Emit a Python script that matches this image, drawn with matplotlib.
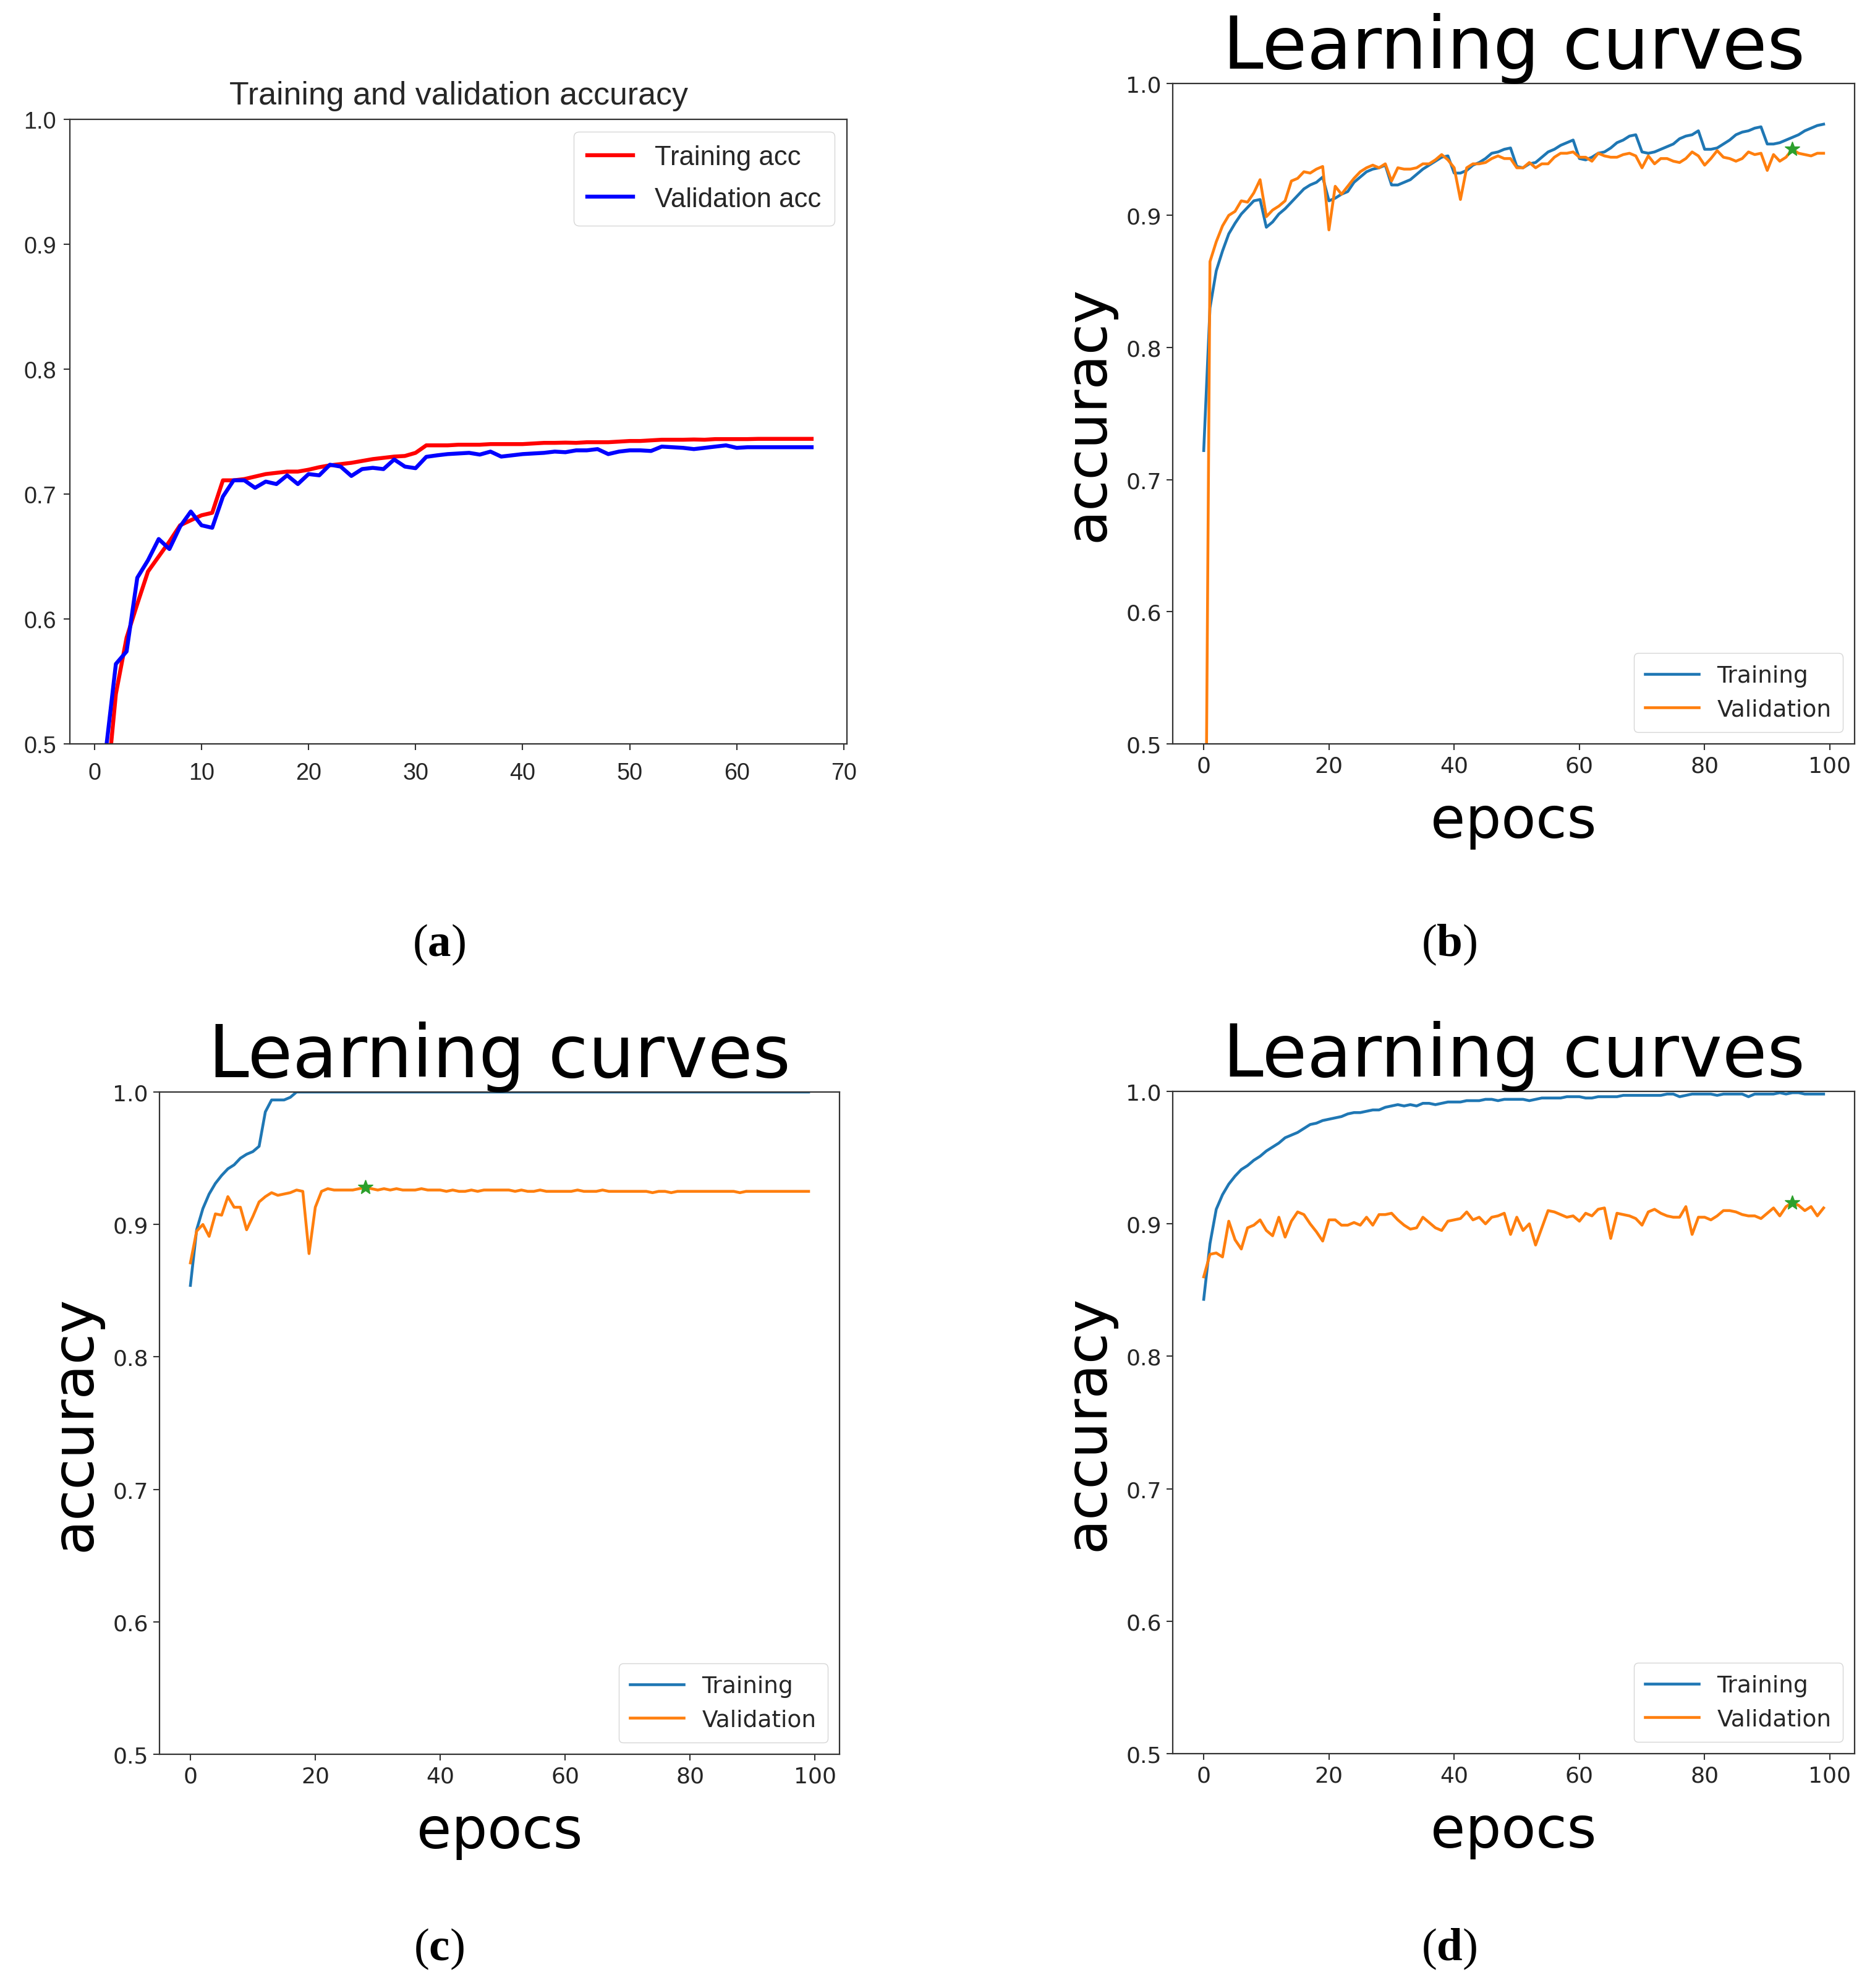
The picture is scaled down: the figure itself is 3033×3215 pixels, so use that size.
import numpy as np
import matplotlib
matplotlib.use("Agg")
import matplotlib.pyplot as plt
from matplotlib import font_manager as fm
from matplotlib.ticker import FormatStrFormatter

# ---------------- data ----------------
# (a) Training and validation accuracy, epochs 1..67
a_epochs = list(range(1, 68))
a_train = [0.45, 0.54, 0.585, 0.612, 0.638, 0.650, 0.662, 0.675, 0.679, 0.683,
           0.685, 0.711, 0.711, 0.712, 0.714, 0.716, 0.717, 0.718, 0.718, 0.7195,
           0.7215, 0.723, 0.724, 0.725, 0.7265, 0.728, 0.729, 0.730, 0.7305, 0.733,
           0.739, 0.739, 0.739, 0.7395, 0.7395, 0.7395, 0.740, 0.740, 0.740, 0.740,
           0.7405, 0.741, 0.741, 0.7412, 0.741, 0.7415, 0.7415, 0.7415, 0.742, 0.7425,
           0.7425, 0.743, 0.7435, 0.7435, 0.7435, 0.7437, 0.7435, 0.744, 0.744, 0.744,
           0.744, 0.7442, 0.7442, 0.7442, 0.7442, 0.7442, 0.7442]
a_val = [0.49, 0.564, 0.574, 0.633, 0.647, 0.664, 0.656, 0.674, 0.686, 0.675,
         0.673, 0.698, 0.711, 0.711, 0.705, 0.710, 0.708, 0.715, 0.708, 0.716,
         0.715, 0.7235, 0.722, 0.7145, 0.720, 0.721, 0.720, 0.7277, 0.722, 0.7207,
         0.7298, 0.731, 0.732, 0.7325, 0.733, 0.7316, 0.734, 0.730, 0.731, 0.732,
         0.7325, 0.733, 0.734, 0.7335, 0.735, 0.735, 0.736, 0.732, 0.734, 0.735,
         0.735, 0.7345, 0.738, 0.7375, 0.737, 0.736, 0.737, 0.738, 0.739, 0.737,
         0.7375, 0.7375, 0.7375, 0.7375, 0.7375, 0.7375, 0.7375]

# (b) Learning curves, epochs 0..99
b_train = [0.722, 0.830, 0.858, 0.873, 0.886, 0.894, 0.901, 0.906, 0.911, 0.912,
           0.891, 0.895, 0.901, 0.905, 0.910, 0.915, 0.920, 0.923, 0.925, 0.929,
           0.911, 0.913, 0.916, 0.918, 0.925, 0.929, 0.933, 0.935, 0.936, 0.938,
           0.923, 0.923, 0.925, 0.927, 0.931, 0.935, 0.938, 0.941, 0.944, 0.945,
           0.932, 0.932, 0.934, 0.938, 0.940, 0.943, 0.947, 0.948, 0.950, 0.951,
           0.937, 0.936, 0.939, 0.940, 0.944, 0.948, 0.950, 0.953, 0.955, 0.957,
           0.943, 0.942, 0.944, 0.947, 0.948, 0.951, 0.955, 0.957, 0.960, 0.961,
           0.948, 0.947, 0.948, 0.950, 0.952, 0.954, 0.958, 0.960, 0.961, 0.964,
           0.950, 0.950, 0.951, 0.954, 0.957, 0.961, 0.963, 0.964, 0.966, 0.967,
           0.954, 0.954, 0.955, 0.957, 0.959, 0.961, 0.964, 0.966, 0.968, 0.969]
b_val = [0.20, 0.865, 0.880, 0.892, 0.900, 0.903, 0.911, 0.910, 0.917, 0.927,
         0.899, 0.904, 0.907, 0.911, 0.926, 0.928, 0.933, 0.932, 0.935, 0.937,
         0.889, 0.922, 0.916, 0.922, 0.928, 0.933, 0.936, 0.938, 0.936, 0.939,
         0.926, 0.936, 0.935, 0.935, 0.936, 0.939, 0.939, 0.942, 0.946, 0.942,
         0.936, 0.912, 0.936, 0.939, 0.939, 0.940, 0.943, 0.945, 0.943, 0.943,
         0.936, 0.936, 0.940, 0.936, 0.939, 0.939, 0.944, 0.947, 0.947, 0.948,
         0.944, 0.944, 0.941, 0.947, 0.945, 0.944, 0.944, 0.946, 0.947, 0.945,
         0.936, 0.945, 0.939, 0.943, 0.943, 0.941, 0.940, 0.943, 0.948, 0.945,
         0.938, 0.943, 0.949, 0.944, 0.943, 0.941, 0.943, 0.948, 0.946, 0.947,
         0.934, 0.946, 0.941, 0.944, 0.950, 0.947, 0.946, 0.945, 0.947, 0.947]

# (c) Learning curves, epochs 0..99
c_train = ([0.854, 0.896, 0.912, 0.923, 0.931, 0.937, 0.942, 0.945, 0.950, 0.953,
            0.955, 0.959, 0.985, 0.994, 0.994, 0.994, 0.996, 1.0]
           + [1.0] * 82)
c_val = [0.871, 0.895, 0.900, 0.891, 0.908, 0.907, 0.921, 0.913, 0.913, 0.896,
         0.906, 0.917, 0.921, 0.924, 0.922, 0.923, 0.924, 0.926, 0.925, 0.878,
         0.913, 0.925, 0.927, 0.926, 0.926, 0.926, 0.926, 0.927, 0.928,
         0.927, 0.926, 0.927, 0.926, 0.927, 0.926, 0.926, 0.926, 0.927, 0.926, 0.926, 0.926,
         0.925, 0.926, 0.925, 0.925, 0.926, 0.925, 0.926, 0.926, 0.926, 0.926,
         0.926, 0.925, 0.926, 0.925, 0.925, 0.926, 0.925, 0.925, 0.925, 0.925,
         0.925, 0.926, 0.925, 0.925, 0.925, 0.926, 0.925, 0.925, 0.925, 0.925,
         0.925, 0.925, 0.925, 0.924, 0.925, 0.925, 0.924, 0.925, 0.925, 0.925,
         0.925, 0.925, 0.925, 0.925, 0.925, 0.925, 0.925, 0.924, 0.925, 0.925,
         0.925, 0.925, 0.925, 0.925, 0.925, 0.925, 0.925, 0.925, 0.925]

# (d) Learning curves, epochs 0..99
d_train = [0.843, 0.885, 0.911, 0.922, 0.930, 0.936, 0.941, 0.944, 0.948, 0.951,
           0.955, 0.958, 0.961, 0.965, 0.967, 0.969, 0.972, 0.975, 0.976, 0.978,
           0.979, 0.980, 0.981, 0.983, 0.984, 0.984, 0.985, 0.986, 0.986, 0.988,
           0.989, 0.990, 0.989, 0.990, 0.989, 0.991, 0.991, 0.990, 0.991, 0.992,
           0.992, 0.992, 0.993, 0.993, 0.993, 0.994, 0.994, 0.993, 0.994, 0.994,
           0.994, 0.994, 0.993, 0.994, 0.995, 0.995, 0.995, 0.995, 0.996, 0.996,
           0.996, 0.995, 0.995, 0.996, 0.996, 0.996, 0.996, 0.997, 0.997, 0.997,
           0.997, 0.997, 0.997, 0.997, 0.998, 0.998, 0.996, 0.997, 0.998, 0.998,
           0.998, 0.998, 0.997, 0.998, 0.998, 0.998, 0.998, 0.996, 0.998, 0.998,
           0.998, 0.998, 0.999, 0.998, 0.999, 0.999, 0.998, 0.998, 0.998, 0.998]
d_val = [0.860, 0.877, 0.878, 0.875, 0.902, 0.888, 0.881, 0.897, 0.899, 0.903,
         0.895, 0.891, 0.905, 0.890, 0.902, 0.909, 0.907, 0.900, 0.894, 0.887,
         0.903, 0.903, 0.899, 0.899, 0.901, 0.899, 0.905, 0.899, 0.907, 0.907,
         0.908, 0.903, 0.899, 0.896, 0.897, 0.905, 0.901, 0.897, 0.895, 0.902,
         0.903, 0.904, 0.909, 0.903, 0.905, 0.900, 0.905, 0.906, 0.908, 0.892,
         0.905, 0.895, 0.900, 0.884, 0.897, 0.910, 0.909, 0.907, 0.905, 0.906,
         0.902, 0.908, 0.906, 0.911, 0.912, 0.889, 0.908, 0.907, 0.906, 0.904,
         0.899, 0.909, 0.911, 0.908, 0.906, 0.905, 0.905, 0.913, 0.892, 0.905,
         0.905, 0.903, 0.906, 0.910, 0.910, 0.909, 0.907, 0.906, 0.906, 0.904,
         0.908, 0.912, 0.906, 0.913, 0.916, 0.914, 0.910, 0.913, 0.906, 0.912]

y_ticks = [0.5, 0.6, 0.7, 0.8, 0.9, 1.0]
captions = ["a", "b", "c", "d"]

# ---------------- fonts ----------------
names = {f.name for f in fm.fontManager.ttflist}
if "Liberation Sans Narrow" in names:
    fam_a, ka = ["Liberation Sans Narrow", "DejaVu Sans"], 1.0
else:
    fam_a, ka = ["Liberation Sans", "DejaVu Sans"], 0.85

plt.rcParams["font.family"] = ["DejaVu Sans"]
plt.rcParams["mathtext.fontset"] = "custom"
plt.rcParams["mathtext.rm"] = "Liberation Serif"
plt.rcParams["mathtext.bf"] = "Liberation Serif:bold"

W, H = 3033, 3216
fig = plt.figure(figsize=(W / 100, H / 100), dpi=100)

def frac(l, t, r, b):
    return [l / W, 1 - b / H, (r - l) / W, (b - t) / H]

SPINE = 1.6
TXT = "#262626"

def style_axes(ax, fam=None, fs=26, pad=6):
    for s in ax.spines.values():
        s.set_linewidth(SPINE)
        s.set_color("#333333")
    ax.tick_params(length=7, width=1.5, labelsize=fs, colors="#333333",
                   labelcolor=TXT, pad=pad)
    ax.set_ylim(0.5, 1.0)
    ax.set_yticks(y_ticks)
    ax.yaxis.set_major_formatter(FormatStrFormatter("%.1f"))

# ---- (a) ----
axa = fig.add_axes(frac(113, 194, 1370, 1204))
axa.plot(a_epochs, a_train, color="red", lw=4.6, label="Training acc")
axa.plot(a_epochs, a_val, color="blue", lw=4.6, label="Validation acc")
style_axes(axa, fam_a, 32 * ka, pad=9)
axa.tick_params(axis="x", pad=14)
axa.set_xticks([0, 10, 20, 30, 40, 50, 60, 70])
for lab in axa.get_xticklabels() + axa.get_yticklabels():
    lab.set_family(fam_a)
axa.set_title("Training and validation accuracy", family=fam_a, fontsize=44 * ka,
              color=TXT, pad=18)
leg = axa.legend(loc="upper right", prop={"family": fam_a, "size": 37 * ka},
                 handlelength=1.7, borderaxespad=0.45, labelspacing=0.6,
                 borderpad=0.5)
for t in leg.get_texts():
    t.set_color(TXT)

# ---- (b), (c), (d) ----
def learning(ax, tr, va):
    ep = list(range(len(tr)))
    ax.plot(ep, tr, color="tab:blue", lw=3.3, label="Training")
    ax.plot(ep, va, color="tab:orange", lw=3.3, label="Validation")
    best = int(np.argmax(va))
    ax.plot(ep[best], va[best], marker="*", color="tab:green", ms=18, ls="none")
    style_axes(ax, None, 26)
    ax.set_xticks([0, 20, 40, 60, 80, 100])
    ax.set_title("Learning curves", fontsize=85, pad=18)
    ax.set_ylabel("accuracy", fontsize=66, labelpad=12)
    ax.set_xlabel("epocs", fontsize=66, labelpad=20)
    lg = ax.legend(loc="lower right", fontsize=27, handlelength=2.3,
                   borderaxespad=0.5, labelspacing=0.5, borderpad=0.5)
    for t in lg.get_texts():
        t.set_color(TXT)

axb = fig.add_axes(frac(1897, 135.6, 3000, 1204))
learning(axb, b_train, b_val)
axc = fig.add_axes(frac(258, 1767, 1358, 2838))
learning(axc, c_train, c_val)
axd = fig.add_axes(frac(1897, 1766, 3000, 2837))
learning(axd, d_train, d_val)

# ---- captions ----
cap_pos = [(710, 1528), (2344, 1528), (710, 3152), (2344, 3152)]
for c, (x, y) in zip(captions, cap_pos):
    fig.text(x / W, 1 - y / H, "(" + r"$\mathbf{" + c + "}$" + ")",
             family="Liberation Serif", fontsize=54, ha="center", va="center")

fig.savefig("out.png", dpi=100, facecolor="white")
